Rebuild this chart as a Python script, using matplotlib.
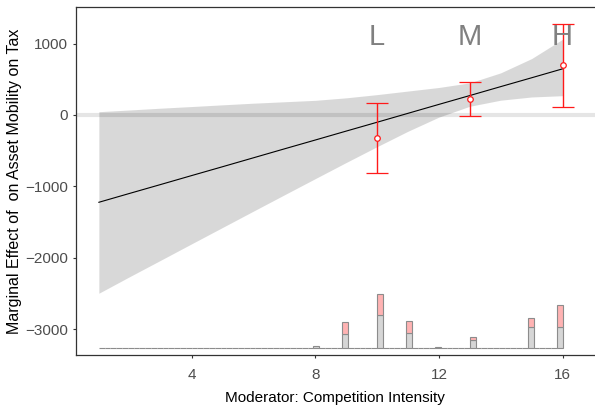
from __future__ import annotations

import matplotlib

matplotlib.use("Agg")
import matplotlib.pyplot as plt
import numpy as np


# marginal effect curve and its confidence band, read at integer moderator values
moderator_grid = [1, 2, 3, 4, 5, 6, 7, 8, 9, 10, 11, 12, 13, 14, 15, 16]
effect_line = [-1223, -1098, -974, -849, -725, -600, -475, -351,
               -226, -102, 23, 148, 272, 397, 521, 646]
band_upper = [46, 70, 95, 118, 142, 165, 185, 205,
              240, 285, 335, 385, 450, 590, 790, 1060]
band_lower = [-2497, -2264, -2035, -1805, -1576, -1347, -1119, -892,
              -666, -444, -228, -30, 122, 207, 252, 270]

# binned estimates (L / M / H)
bin_labels = ["L", "M", "H"]
bin_x = [10, 13, 16]
bin_est = [-325, 222, 698]
bin_lo = [-815, -20, 110]
bin_hi = [168, 466, 1275]

# moderator distribution shown at the bottom
hist_values = [8, 9, 10, 11, 12, 13, 15, 16]
hist_control = [32, 192, 458, 214, 18, 112, 290, 290]
hist_treated = [0, 168, 298, 168, 0, 46, 134, 316]
hist_range = (1, 16)
hist_bins = 80
hist_base = -3263

x_ticks = [4, 8, 12, 16]
y_ticks = [-3000, -2000, -1000, 0, 1000]
x_title = "Moderator: Competition Intensity"
y_title = "Marginal Effect of  on Asset Mobility on Tax"

FONT = ["Liberation Sans", "DejaVu Sans"]


def _draw_histogram(ax: plt.Axes) -> None:
    edges = np.linspace(hist_range[0], hist_range[1], hist_bins + 1)
    control, _ = np.histogram(hist_values, bins=edges, weights=hist_control)
    treated, _ = np.histogram(hist_values, bins=edges, weights=hist_treated)
    centers = (edges[:-1] + edges[1:]) / 2
    width = edges[1] - edges[0]
    ax.bar(centers, control, width=width, bottom=hist_base, color="#d6d6d6",
           edgecolor="#8c8c8c", linewidth=0.8, zorder=2)
    mask = treated > 0
    ax.bar(centers[mask], treated[mask], width=width, bottom=hist_base + control[mask],
           color="#ffb3b3", edgecolor="#8c8c8c", linewidth=0.8, zorder=2)


def main() -> None:
    plt.rcParams["font.family"] = FONT
    fig = plt.figure(figsize=(5.95, 4.08), dpi=100)
    ax = fig.add_axes([0.1272, 0.1299, 0.8728, 0.8529])

    ax.fill_between(moderator_grid, band_lower, band_upper, color="#b3b3b3",
                    alpha=0.5, linewidth=0, zorder=1)
    ax.axhline(0, color="black", alpha=0.1, linewidth=3, zorder=1.5)
    ax.plot(moderator_grid, effect_line, color="black", linewidth=0.8, zorder=3)

    _draw_histogram(ax)

    est = np.array(bin_est)
    yerr = [est - np.array(bin_lo), np.array(bin_hi) - est]
    ax.errorbar(bin_x, est, yerr=yerr, fmt="o", color="#ff1a1a", ecolor="#ff1a1a",
                elinewidth=1.0, capsize=8, capthick=1.0, markersize=4,
                markerfacecolor="white", markeredgecolor="#ff1a1a",
                markeredgewidth=0.9, zorder=4)
    for label, x in zip(bin_labels, bin_x):
        ax.text(x, 1090, label, ha="center", va="center", fontsize=21,
                color="#808080", zorder=5)

    ax.set_xlim(0.25, 17.05)
    ax.set_ylim(-3362, 1512)
    ax.set_xticks(x_ticks)
    ax.set_yticks(y_ticks)
    ax.tick_params(axis="both", direction="out", length=2.5, width=0.8,
                   color="#333333", labelcolor="#4d4d4d", labelsize=11)
    ax.tick_params(axis="x", pad=7)
    ax.tick_params(axis="y", pad=3)
    for name in ("left", "bottom", "top"):
        ax.spines[name].set_color("#333333")
        ax.spines[name].set_linewidth(0.9)
    ax.spines["right"].set_visible(False)

    ax.set_xlabel(x_title, fontsize=11, color="black", labelpad=6)
    ax.set_ylabel(y_title, fontsize=11.5, color="black", labelpad=2)

    fig.savefig("out.png", dpi=100)
    plt.close(fig)


if __name__ == "__main__":
    main()
